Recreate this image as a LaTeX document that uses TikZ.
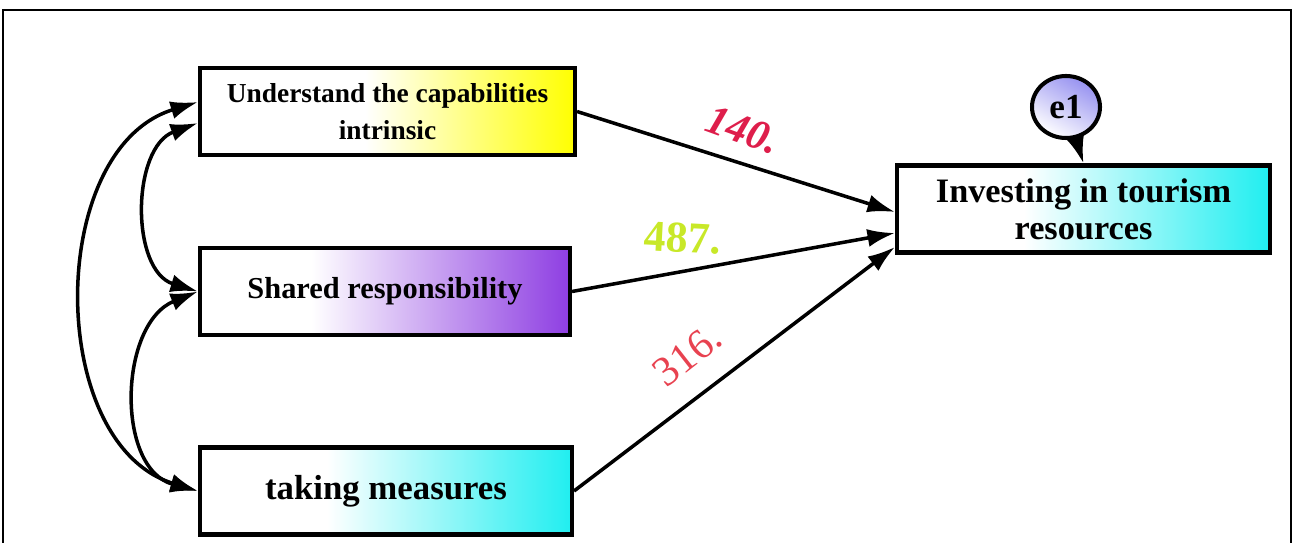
\documentclass[tikz,border=0pt]{standalone}
\usepackage{fontspec}
\setmainfont{Liberation Serif}
\usetikzlibrary{arrows.meta,positioning,shapes.geometric}
\definecolor{cyel}{RGB}{255,255,0}
\definecolor{cpur}{RGB}{142,62,226}
\definecolor{ccya}{RGB}{32,238,240}
\definecolor{clav}{RGB}{150,145,240}
\definecolor{lred}{RGB}{222,30,75}
\definecolor{lgrn}{RGB}{200,232,40}
\definecolor{lpnk}{RGB}{232,66,80}
\pgfdeclarehorizontalshading{yelfade}{100bp}{color(0bp)=(white); color(47bp)=(white); color(75bp)=(cyel); color(100bp)=(cyel)}
\pgfdeclarehorizontalshading{purfade}{100bp}{color(0bp)=(white); color(40bp)=(white); color(75bp)=(cpur); color(100bp)=(cpur)}
\pgfdeclarehorizontalshading{cyafade}{100bp}{color(0bp)=(white); color(42bp)=(white); color(75bp)=(ccya); color(100bp)=(ccya)}
\newcommand{\fsz}[2]{\fontsize{#1}{#2}\selectfont}
\tikzset{
  var/.style={draw=black, line width=2.3pt, shade, minimum height=1.74cm,
              align=center, inner sep=2pt},
  err/.style={ellipse, draw=black, line width=2.3pt, top color=clav, bottom color=white,
              shading angle=-30, minimum width=1.36cm, minimum height=1.24cm, inner sep=0pt,
              font=\fsz{20}{20}\bfseries},
  pth/.style={-{Latex[length=5.5mm,width=3.6mm]}, line width=2pt},
  cov/.style={{Latex[length=5.5mm,width=3.6mm]}-{Latex[length=5.5mm,width=3.6mm]}, line width=2pt},
}

\begin{document}
\begin{tikzpicture}
  \useasboundingbox (0,0) rectangle (25.86,-10.86);
  % frame, open at the bottom
  \draw[line width=1.2pt] (0.06,-10.86) -- (0.06,-0.2) -- (25.82,-0.2) -- (25.82,-10.86);
  % observed variables
  \node[var, shading=yelfade, minimum width=7.5cm, font=\fsz{15.6}{21}\bfseries] (cap) at (7.75,-2.23)
       {Understand the capabilities\\intrinsic};
  \node[var, shading=purfade, minimum width=7.4cm, font=\fsz{17.3}{20}\bfseries] (shr) at (7.7,-5.83)
       {Shared responsibility};
  \node[var, shading=cyafade, minimum width=7.44cm, font=\fsz{19.8}{22}\bfseries] (tak) at (7.72,-9.82)
       {taking measures};
  \node[var, shading=cyafade, minimum width=7.46cm, font=\fsz{19.5}{21}\bfseries] (inv) at (21.67,-4.18)
       {Investing in tourism\\resources};
  \node[err] (e1) at (21.32,-2.14) {e1};
  % paths
  \draw[pth] (cap.east) -- ([yshift=-0.06cm]inv.west);
  \draw[pth] (shr.east) -- ([yshift=-0.48cm]inv.west);
  \draw[pth] (tak.east) -- ([yshift=-0.76cm]inv.west);
  \draw[pth] (e1) -- (inv.north);
  % covariances
  \draw[cov] ([yshift=0.19cm]cap.west) to[out=197, in=163, looseness=1.05] (tak.west);
  \draw[cov] ([yshift=-0.23cm]cap.west) to[out=200, in=163, looseness=1.08] (shr.west);
  \draw[cov] (shr.west) to[out=202, in=165, looseness=1.1] (tak.west);
  % coefficients
  \node[text=lred, rotate=-20, font=\fsz{24}{24}\bfseries\itshape] (c140) at (14.86,-2.6) {140.};
  \node[text=lgrn, rotate=-3, font=\fsz{25}{25}\bfseries] (c487) at (13.66,-4.76) {487.};
  \node[text=lpnk, rotate=38, font=\fsz{24}{24}] (c316) at (13.75,-7.1) {316.};
\end{tikzpicture}
\end{document}
